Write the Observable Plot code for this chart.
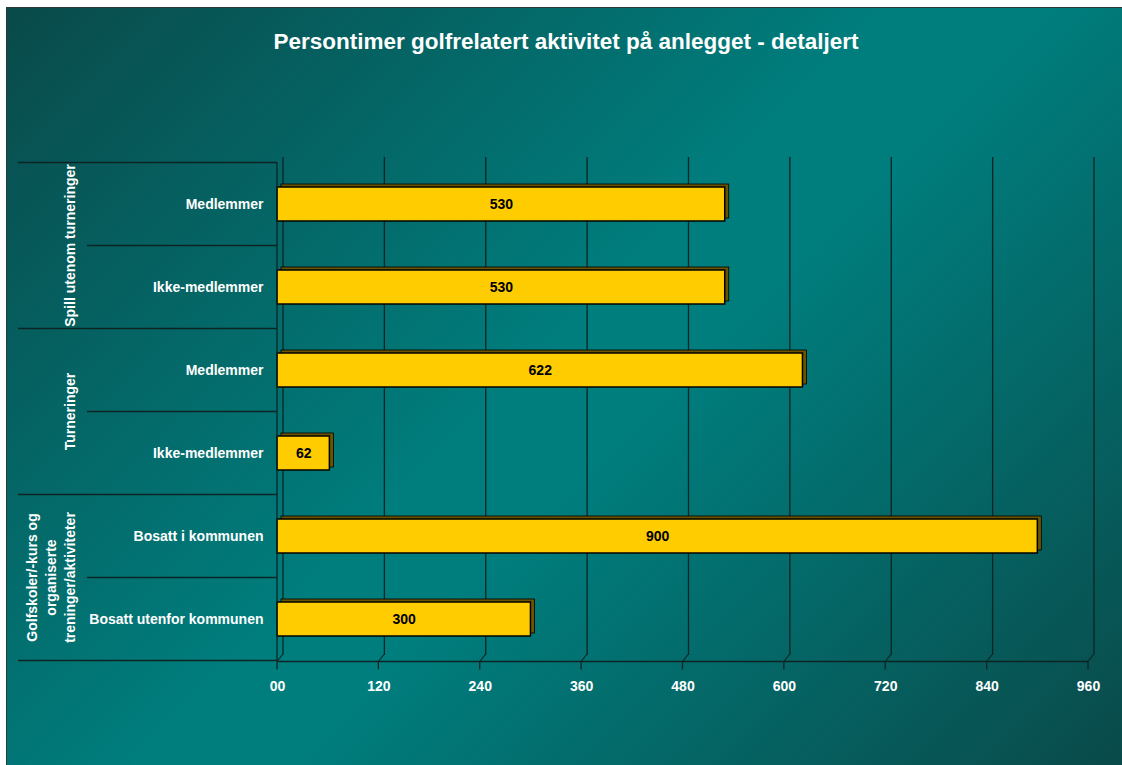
<!DOCTYPE html>
<html>
<head>
<meta charset="utf-8">
<script src="https://cdn.jsdelivr.net/npm/d3@7"></script>
<script src="https://cdn.jsdelivr.net/npm/@observablehq/plot@0.6"></script>
<style>
  html, body { margin: 0; padding: 0; background: #fff; }
  #wrap { position: relative; width: 1122px; height: 765px; overflow: hidden; }
  #bg { position: absolute; left: 6px; top: 7px; right: 0; bottom: 0;
        background: linear-gradient(135deg, #0a4a4a 0%, #007e7e 48%, #007e7e 55%, #0a4a4a 100%);
        border-left: 1px solid #2a3a3a; border-top: 1px solid #2a3a3a; }
  #title { position: absolute; left: 0; width: 1132px; top: 29px; text-align: center;
           font-family: "Liberation Sans", Arial, sans-serif; font-weight: bold; font-size: 22.5px; color: #fff; }
  #chart { position: absolute; left: 0; top: 0; }
  #chart svg { background: transparent !important; }
</style>
</head>
<body>
<div id="wrap">
  <div id="bg"></div>
  <div id="title">Persontimer golfrelatert aktivitet på anlegget - detaljert</div>
  <div id="chart"></div>
</div>
<script>
const groups = ["Spill utenom turneringer", "Spill utenom turneringer", "Turneringer", "Turneringer",
                "Golfskoler/-kurs og organiserte treninger/aktiviteter", "Golfskoler/-kurs og organiserte treninger/aktiviteter"];
const groupLines = [["Spill utenom turneringer"], ["Turneringer"], ["Golfskoler/-kurs og", "organiserte", "treninger/aktiviteter"]];
const categories = ["Medlemmer", "Ikke-medlemmer", "Medlemmer", "Ikke-medlemmer", "Bosatt i kommunen", "Bosatt utenfor kommunen"];
const values = [530, 530, 622, 62, 900, 300];
const tickValues = [0, 120, 240, 360, 480, 600, 720, 840, 960];
const tickLabels = ["00", "120", "240", "360", "480", "600", "720", "840", "960"];

const data = categories.map((c, i) => ({key: i + "|" + c, label: c, group: groups[i], value: values[i]}));
const keys = data.map(d => d.key);

const font = "Liberation Sans, Arial, sans-serif";
const depthX = 4, depthY = -3;

const chart = Plot.plot({
  width: 1122,
  height: 765,
  marginLeft: 277,
  marginRight: 34,
  marginTop: 163,
  marginBottom: 104,
  style: {background: "transparent", fontFamily: font},
  x: {domain: [0, 960], axis: null},
  y: {domain: keys, axis: null, paddingInner: 0.59, paddingOuter: 0.295},
  marks: [
    Plot.ruleX(tickValues, {stroke: "#0c2424", strokeWidth: 1.3, dx: 5.5, dy: -6}),
    Plot.barX(data, {x: "value", y: "key", fill: "#6b5400", stroke: "#000", strokeWidth: 0.8, dx: depthX, dy: depthY}),
    Plot.barX(data, {x: "value", y: "key", fill: "#ffcc00", stroke: "#000", strokeWidth: 1.5}),
    Plot.text(data, {x: d => d.value / 2, y: "key", text: d => String(d.value), fill: "#000",
                     fontWeight: "bold", fontSize: 14}),
    Plot.text(data, {x: 0, y: "key", text: "label", textAnchor: "end", dx: -14, fill: "#fff",
                     fontWeight: "bold", fontSize: 14}),
    Plot.axisX({ticks: tickValues, tickFormat: d => tickLabels[tickValues.indexOf(d)],
                tickSize: 0, tickPadding: 20, fill: "#fff", fontWeight: "bold", fontSize: 14,
                label: null})
  ]
});

document.getElementById("chart").appendChild(chart);

const xs = chart.scale("x"), ys = chart.scale("y");
const svg = d3.select(chart);
const bw = ys.bandwidth, step = ys.step;
const yTop = ys.apply(keys[0]) - (step - bw) / 2;
const yBottom = ys.apply(keys[keys.length - 1]) + bw + (step - bw) / 2;
const x0 = xs.apply(0), xMax = xs.apply(960);
const g = svg.append("g").attr("stroke", "#0c2424").attr("fill", "none");

g.append("line").attr("x1", x0).attr("x2", xMax).attr("y1", yBottom + 1).attr("y2", yBottom + 1).attr("stroke-width", 1.3);
for (const t of tickValues) {
  const x = xs.apply(t);
  g.append("line").attr("x1", x + 5.5).attr("y1", yBottom - 6).attr("x2", x).attr("y2", yBottom + 1).attr("stroke-width", 1.2);
  g.append("line").attr("x1", x).attr("y1", yBottom + 1).attr("x2", x).attr("y2", yBottom + 9).attr("stroke-width", 1.3);
}
g.append("line").attr("x1", x0).attr("x2", x0).attr("y1", yTop).attr("y2", yBottom).attr("stroke-width", 1.3);
const leftOuter = 18, leftInner = 87;
for (let i = 0; i <= keys.length; i++) {
  const y = yTop + i * step;
  const isGroup = i === 0 || i === keys.length || groups[i] !== groups[i - 1];
  g.append("line").attr("x1", isGroup ? leftOuter : leftInner).attr("x2", x0)
    .attr("y1", y).attr("y2", y).attr("stroke-width", 1.3);
}
const groupNames = [...new Set(groups)];
groupNames.forEach((name, gi) => {
  const idx = groups.map((gname, i) => gname === name ? i : -1).filter(i => i >= 0);
  const y0 = yTop + idx[0] * step, y1 = yTop + (idx[idx.length - 1] + 1) * step;
  const cy = (y0 + y1) / 2;
  const lines = groupLines[gi];
  const lh = 19;
  lines.forEach((ln, li) => {
    const tx = 70 - (lines.length - 1) * lh + li * lh + 5;
    svg.append("text").attr("transform", `translate(${tx},${cy}) rotate(-90)`)
      .attr("text-anchor", "middle").attr("fill", "#fff").attr("font-weight", "bold")
      .attr("font-size", 14).attr("font-family", font).text(ln);
  });
});
</script>
</body>
</html>
